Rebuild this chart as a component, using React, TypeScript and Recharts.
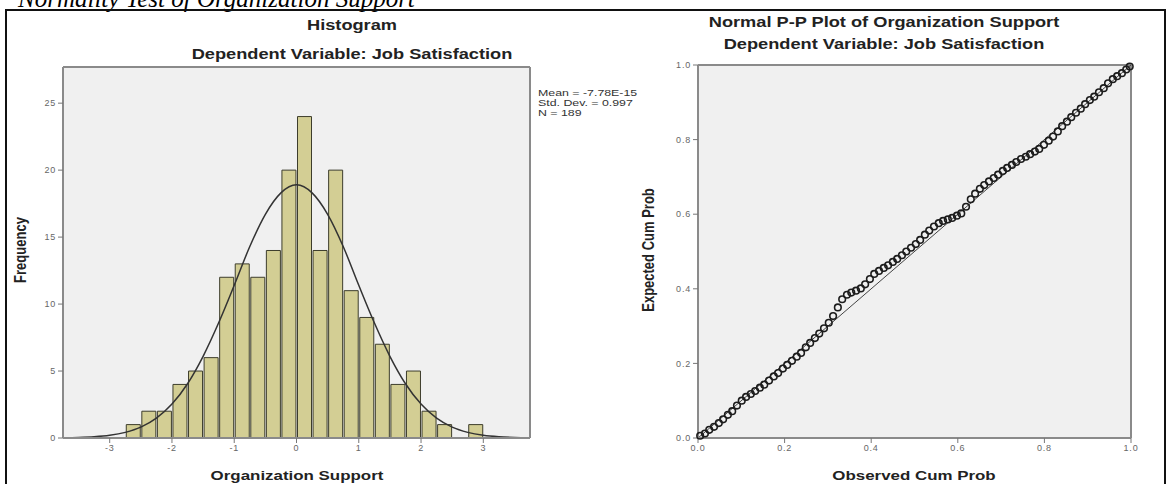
import React from 'react';
import {
  ComposedChart,
  ScatterChart,
  Bar,
  Line,
  Scatter,
  XAxis,
  YAxis,
  CartesianGrid,
  ReferenceLine,
} from 'recharts';

// histogram bins (width 0.25)
const binMids = [
  -2.625, -2.375, -2.125, -1.875, -1.625, -1.375, -1.125, -0.875, -0.625, -0.375, -0.125, 0.125,
  0.375, 0.625, 0.875, 1.125, 1.375, 1.625, 1.875, 2.125, 2.375, 2.625, 2.875,
];
const binCounts = [1, 2, 2, 4, 5, 6, 12, 13, 12, 14, 20, 24, 14, 20, 11, 9, 7, 4, 5, 2, 1, 0, 1];

// normal curve heights read at every 0.25
const curveX = [
  -3.75, -3.5, -3.25, -3, -2.75, -2.5, -2.25, -2, -1.75, -1.5, -1.25, -1, -0.75, -0.5, -0.25, 0,
  0.25, 0.5, 0.75, 1, 1.25, 1.5, 1.75, 2, 2.25, 2.5, 2.75, 3, 3.25, 3.5, 3.75,
];
const curveY = [
  0.02, 0.04, 0.09, 0.2, 0.42, 0.81, 1.48, 2.53, 4.05, 6.1, 8.6, 11.4, 14.3, 16.7, 18.3, 18.9,
  18.3, 16.7, 14.3, 11.4, 8.6, 6.1, 4.05, 2.53, 1.48, 0.81, 0.42, 0.2, 0.09, 0.04, 0.02,
];

const histTicksX = [-3, -2, -1, 0, 1, 2, 3];
const histTicksY = [0, 5, 10, 15, 20, 25];
const statsLines = ['Mean = -7.78E-15', 'Std. Dev. = 0.997', 'N = 189'];

// P-P plot points (observed cum prob, expected cum prob)
const ppObserved = [
  0.005, 0.016, 0.026, 0.037, 0.048, 0.058, 0.069, 0.079, 0.09, 0.101, 0.111, 0.122, 0.132, 0.143,
  0.153, 0.164, 0.175, 0.185, 0.196, 0.206, 0.217, 0.228, 0.238, 0.249, 0.259, 0.27, 0.28, 0.291,
  0.302, 0.312, 0.323, 0.333, 0.344, 0.354, 0.365, 0.376, 0.386, 0.397, 0.407, 0.418, 0.429, 0.439,
  0.45, 0.46, 0.471, 0.481, 0.492, 0.503, 0.513, 0.524, 0.534, 0.545, 0.556, 0.566, 0.577, 0.587,
  0.598, 0.608, 0.619, 0.63, 0.64, 0.651, 0.661, 0.672, 0.683, 0.693, 0.704, 0.714, 0.725, 0.735,
  0.746, 0.757, 0.767, 0.778, 0.788, 0.799, 0.81, 0.82, 0.831, 0.841, 0.852, 0.862, 0.873, 0.884,
  0.894, 0.905, 0.915, 0.926, 0.937, 0.947, 0.958, 0.968, 0.979, 0.989, 0.997,
];
const ppExpected = [
  0.006, 0.012, 0.022, 0.03, 0.04, 0.05, 0.062, 0.072, 0.087, 0.1, 0.11, 0.118, 0.126, 0.135,
  0.143, 0.154, 0.165, 0.174, 0.186, 0.196, 0.207, 0.218, 0.228, 0.243, 0.255, 0.268, 0.28, 0.294,
  0.309, 0.327, 0.35, 0.372, 0.384, 0.39, 0.395, 0.401, 0.412, 0.426, 0.44, 0.448, 0.456, 0.463,
  0.472, 0.48, 0.49, 0.5, 0.51, 0.52, 0.531, 0.545, 0.556, 0.567, 0.576, 0.582, 0.586, 0.59,
  0.596, 0.602, 0.62, 0.64, 0.655, 0.668, 0.678, 0.688, 0.697, 0.706, 0.716, 0.724, 0.732, 0.74,
  0.748, 0.754, 0.761, 0.768, 0.775, 0.786, 0.797, 0.808, 0.822, 0.836, 0.848, 0.86, 0.872, 0.883,
  0.895, 0.906, 0.915, 0.927, 0.938, 0.951, 0.962, 0.97, 0.978, 0.988, 0.996,
];
const ppTicks = [0, 0.2, 0.4, 0.6, 0.8, 1.0];

const FONT = 'Arial, "Liberation Sans", sans-serif';
const frameAxis = { stroke: '#8a8a8a', strokeWidth: 2 };
const tickStyle = { fontSize: 9, fill: '#666', fontFamily: FONT, letterSpacing: 0.8 };

// text helper, the picture is stretched sideways so glyphs get widened
function Txt({ x, y, children, size = 14, rotate = false }: any) {
  const transform = rotate
    ? 'translate(-50%, -50%) rotate(-90deg) scaleY(1.3)'
    : 'translate(-50%, -50%) scaleX(1.3)';
  return (
    <div
      style={{
        position: 'absolute',
        left: x,
        top: y,
        transform,
        whiteSpace: 'nowrap',
        fontFamily: FONT,
        fontWeight: 'bold',
        fontSize: size,
        color: '#222',
        lineHeight: 1,
      }}
    >
      {children}
    </div>
  );
}

function PointShape(props: any) {
  return <circle cx={props.cx} cy={props.cy} r={3.3} fill="none" stroke="#1c1c1c" strokeWidth={1.6} />;
}

export default function App() {
  const histData = binMids.map((m, i) => ({ mid: m, count: binCounts[i] }));
  const curveData = curveX.map((m, i) => ({ cx: m, density: curveY[i] }));
  const ppData = ppObserved.map((o, i) => ({ obs: o, exp: ppExpected[i] }));

  return (
    <div
      style={{
        position: 'absolute',
        left: 0,
        top: 0,
        width: 1168,
        height: 484,
        background: '#fff',
        overflow: 'hidden',
        fontFamily: FONT,
      }}
    >
      {/* caption above the figure, cut off by the crop as in the source */}
      <svg width={1168} height={20} style={{ position: 'absolute', left: 0, top: 0 }}>
        <text
          x={18}
          y={7}
          fontFamily='"Liberation Serif", "Times New Roman", serif'
          fontStyle="italic"
          fontSize={25}
          fill="#000"
        >
          Normality Test of Organization Support
        </text>
      </svg>

      <div
        style={{
          position: 'absolute',
          left: 5,
          top: 9,
          width: 1157,
          height: 480,
          border: '2px solid #111',
        }}
      />

      {/* histogram */}
      <div style={{ position: 'absolute', left: 0, top: 0 }}>
        <ComposedChart
          width={600}
          height={484}
          data={histData}
          margin={{ top: 67, right: 70, left: 33, bottom: 16 }}
        >
          <CartesianGrid fill="#f0f0f0" horizontal={false} vertical={false} />
          <XAxis
            dataKey="mid"
            type="number"
            domain={[-3.75, 3.75]}
            ticks={histTicksX}
            allowDataOverflow
            height={30}
            axisLine={frameAxis}
            tickLine={{ stroke: '#777' }}
            tickSize={5}
            tick={tickStyle}
          />
          <XAxis
            xAxisId="curve"
            dataKey="cx"
            type="number"
            domain={[-3.75, 3.75]}
            allowDataOverflow
            hide
          />
          <YAxis
            type="number"
            domain={[0, 27.7]}
            ticks={histTicksY}
            allowDataOverflow
            width={30}
            axisLine={frameAxis}
            tickLine={{ stroke: '#777' }}
            tickSize={5}
            tick={tickStyle}
          />
          <ReferenceLine y={27.7} stroke="#8a8a8a" strokeWidth={2} />
          <ReferenceLine x={3.75} stroke="#8a8a8a" strokeWidth={2} />
          <Bar
            dataKey="count"
            barSize={15.6}
            fill="#d3ce94"
            stroke="#3d3d2c"
            strokeWidth={1}
            isAnimationActive={false}
          />
          <Line
            xAxisId="curve"
            data={curveData}
            dataKey="density"
            type="monotone"
            dot={false}
            stroke="#333"
            strokeWidth={1.5}
            isAnimationActive={false}
          />
        </ComposedChart>
      </div>

      {/* P-P plot */}
      <div style={{ position: 'absolute', left: 600, top: 0 }}>
        <ScatterChart width={568} height={484} margin={{ top: 65, right: 37, left: 68, bottom: 16 }}>
          <CartesianGrid fill="#f0f0f0" horizontal={false} vertical={false} />
          <XAxis
            dataKey="obs"
            type="number"
            domain={[0, 1]}
            ticks={ppTicks}
            tickFormatter={(v: number) => v.toFixed(1)}
            height={30}
            axisLine={frameAxis}
            tickLine={{ stroke: '#777' }}
            tickSize={5}
            tick={tickStyle}
          />
          <YAxis
            dataKey="exp"
            type="number"
            domain={[0, 1]}
            ticks={ppTicks}
            tickFormatter={(v: number) => v.toFixed(1)}
            width={30}
            axisLine={frameAxis}
            tickLine={{ stroke: '#777' }}
            tickSize={5}
            tick={tickStyle}
          />
          <ReferenceLine y={1} stroke="#8a8a8a" strokeWidth={2} />
          <ReferenceLine x={1} stroke="#8a8a8a" strokeWidth={2} />
          <ReferenceLine
            segment={[
              { x: 0, y: 0 },
              { x: 1, y: 1 },
            ]}
            stroke="#444"
            strokeWidth={1}
          />
          <Scatter data={ppData} shape={PointShape} isAnimationActive={false} />
        </ScatterChart>
      </div>

      {/* titles and labels */}
      <Txt x={352} y={25}>Histogram</Txt>
      <Txt x={352} y={54}>Dependent Variable: Job Satisfaction</Txt>
      <Txt x={20} y={250} size={13} rotate>
        Frequency
      </Txt>
      <Txt x={297} y={475} size={13}>
        Organization Support
      </Txt>

      <Txt x={884} y={22}>Normal P-P Plot of Organization Support</Txt>
      <Txt x={884} y={44}>Dependent Variable: Job Satisfaction</Txt>
      <Txt x={648} y={250} size={13} rotate>
        Expected Cum Prob
      </Txt>
      <Txt x={914} y={475} size={13}>
        Observed Cum Prob
      </Txt>

      <div
        style={{
          position: 'absolute',
          left: 538,
          top: 88,
          fontSize: 9.5,
          lineHeight: '10px',
          color: '#333',
          transform: 'scaleX(1.3)',
          transformOrigin: 'left top',
          whiteSpace: 'nowrap',
        }}
      >
        {statsLines.map((s) => (
          <div key={s}>{s}</div>
        ))}
      </div>
    </div>
  );
}
